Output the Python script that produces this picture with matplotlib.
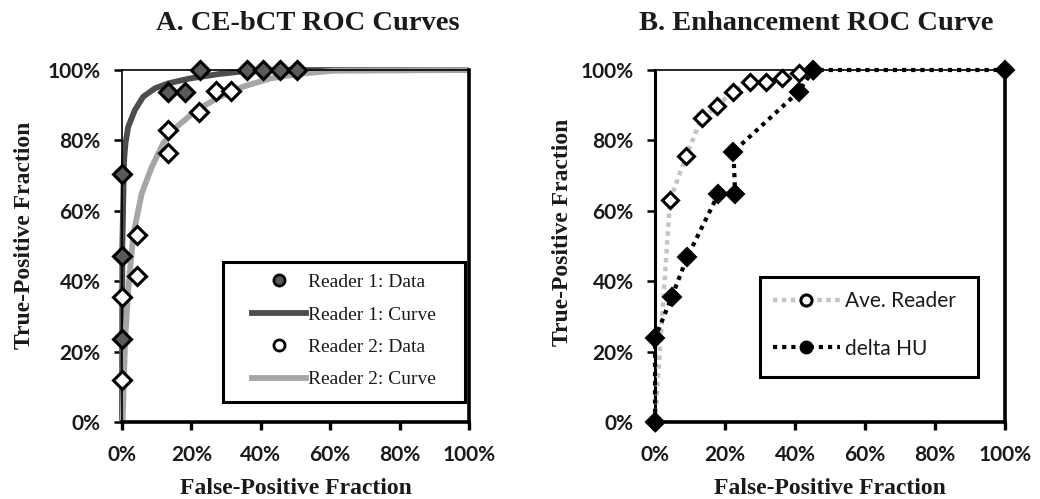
import matplotlib
matplotlib.use("Agg")
import matplotlib.pyplot as plt
from matplotlib.patches import Rectangle
from matplotlib.ticker import FuncFormatter

# ---------------- data (percent) ----------------
# Panel A: CE-bCT ROC curves
r1_data_fpr = [0, 0, 0, 13.3, 18.2, 22.5, 36.0, 40.6, 45.5, 50.3]
r1_data_tpr = [23.5, 47.3, 70.5, 93.8, 93.8, 100, 100, 100, 100, 100]
r2_data_fpr = [0, 0, 4.2, 4.2, 13.3, 13.3, 22.3, 27.2, 31.5]
r2_data_tpr = [11.9, 35.6, 41.4, 53.0, 76.5, 83.0, 88.2, 94.0, 94.0]
r1_curve_fpr = [0, 0.1, 0.6, 1.0, 1.8, 3.7, 6.1, 9.5, 13.3, 19.6, 28.2, 34.0, 45.0, 100]
r1_curve_tpr = [0, 50.0, 74.4, 79.2, 83.9, 88.6, 92.4, 94.8, 96.2, 97.6, 98.9, 99.5, 100, 100]
r2_curve_fpr = [0, 0.2, 0.9, 1.8, 3.3, 5.7, 8.6, 11.9, 15.8, 21.5, 28.2, 35.0, 42.7, 52.0, 61.0, 100]
r2_curve_tpr = [0, 0.6, 23.3, 37.5, 53.5, 65.0, 72.5, 79.2, 83.9, 88.6, 92.4, 95.3, 97.6, 99.0, 99.8, 100]

# Panel B: Enhancement ROC curve
ave_fpr = [0, 4.3, 8.9, 13.3, 17.8, 22.2, 27.1, 31.7, 36.2, 41.0, 45.2]
ave_tpr = [0, 63.0, 75.6, 86.3, 89.8, 93.8, 96.7, 96.7, 97.6, 99.2, 100]
dhu_fpr = [0, 0, 4.8, 9.2, 18.1, 22.9, 22.4, 41.0, 45.2, 100]
dhu_tpr = [0, 23.8, 35.6, 46.8, 64.8, 64.8, 76.8, 93.8, 100, 100]

x_ticks = [0, 20, 40, 60, 80, 100]
y_ticks = [0, 20, 40, 60, 80, 100]

titles = ["A. CE-bCT ROC Curves", "B. Enhancement ROC Curve"]
xlabel = "False-Positive Fraction"
ylabel = "True-Positive Fraction"
legA_labels = ["Reader 1: Data", "Reader 1: Curve", "Reader 2: Data", "Reader 2: Curve"]
legB_labels = ["Ave. Reader", "delta HU"]

SERIF = "Liberation Serif"
SANS = "Lato"
TXT = "#1a1a1a"

fig = plt.figure(figsize=(10.4, 4.99), dpi=100)
W, H = 1040, 499


def add_ax(x0, x1, y_top, y_bot):
    return fig.add_axes([x0 / W, 1 - y_bot / H, (x1 - x0) / W, (y_bot - y_top) / H])


axA = add_ax(122, 469, 70, 422)
axB = add_ax(655, 1005, 70, 422)

pct = FuncFormatter(lambda v, p: f"{int(round(v))}%")

for ax, left_lw, ylab_xy in ((axA, 1.2, (-0.28, 0.531)), (axB, 2.2, (-0.263, 0.54))):
    ax.set_xlim(0, 100)
    ax.set_ylim(0, 100)
    ax.set_xticks(x_ticks)
    ax.set_yticks(y_ticks)
    ax.xaxis.set_major_formatter(pct)
    ax.yaxis.set_major_formatter(pct)
    ax.spines["top"].set_linewidth(1.2)
    ax.spines["left"].set_linewidth(left_lw)
    ax.spines["bottom"].set_linewidth(2.6)
    ax.spines["right"].set_linewidth(2.6)
    for s in ax.spines.values():
        s.set_color("black")
    ax.tick_params(axis="x", direction="out", length=6, width=2.4, pad=10.5,
                   labelsize=15, labelcolor=TXT)
    ax.tick_params(axis="y", direction="out", length=6, width=1.8, pad=9.5,
                   labelsize=15, labelcolor=TXT)
    for lab in ax.get_xticklabels() + ax.get_yticklabels():
        lab.set_fontfamily(SANS)
        lab.set_fontweight("bold")
    ax.set_xlabel(xlabel, fontfamily=SERIF, fontweight="bold", fontsize=17, color=TXT)
    ax.set_ylabel(ylabel, fontfamily=SERIF, fontweight="bold", fontsize=17, color=TXT)
    ax.xaxis.set_label_coords(0.5, -0.1875)
    ax.xaxis.label.set_va("center")
    ax.yaxis.set_label_coords(*ylab_xy)
    ax.yaxis.label.set_va("center")

# ---------- Panel A ----------
axA.plot(r1_curve_fpr, r1_curve_tpr, color="#4d4d4d", lw=4.2,
         solid_capstyle="butt", zorder=2, clip_on=False)
axA.plot(r2_curve_fpr, r2_curve_tpr, color="#a6a6a6", lw=4.2,
         solid_capstyle="butt", zorder=2.1, clip_on=False)
axA.plot(r1_data_fpr, r1_data_tpr, ls="none", marker="D", ms=9.5,
         mfc="#5a5a5a", mec="black", mew=2.2, zorder=4, clip_on=False)
axA.plot(r2_data_fpr, r2_data_tpr, ls="none", marker="D", ms=9.5,
         mfc="white", mec="black", mew=2.2, zorder=4, clip_on=False)

# legend frame drawn as a rectangle, legend itself frameless
axA.add_patch(Rectangle((0.291, 0.057), 0.697, 0.398, transform=axA.transAxes,
                        facecolor="white", edgecolor="black", lw=2.2, zorder=5))
h_r1d = plt.Line2D([], [], ls="none", marker="o", ms=8, mfc="#5a5a5a", mec="black", mew=2)
h_r2d = plt.Line2D([], [], ls="none", marker="o", ms=8, mfc="white", mec="black", mew=2)
h_r1c = plt.Line2D([], [], color="#4d4d4d", lw=4.2)
h_r2c = plt.Line2D([], [], color="#a6a6a6", lw=4.2)
legA = axA.legend([h_r1d, h_r1c, h_r2d, h_r2c], legA_labels,
                  loc="center left", bbox_to_anchor=(0.375, 0.2585),
                  frameon=False, borderpad=0, borderaxespad=0,
                  handlelength=2.75, handletextpad=0.1, labelspacing=0.76,
                  prop={"family": SERIF, "size": 14})
legA.set_zorder(6)
for t in legA.get_texts():
    t.set_color(TXT)

# ---------- Panel B ----------
axB.plot(ave_fpr, ave_tpr, color="#c4c4c4", lw=3.2, ls=(0, (1, 1)),
         dash_capstyle="butt", marker="D", ms=8.5, mfc="white",
         mec="black", mew=2.2, zorder=3, clip_on=False)
axB.plot(dhu_fpr, dhu_tpr, color="black", lw=3.0, ls=(0, (1, 1.2)),
         dash_capstyle="butt", marker="D", ms=9, mfc="black",
         mec="black", mew=1.5, zorder=4, clip_on=False)
axB.add_patch(Rectangle((0.3, 0.128), 0.623, 0.284, transform=axB.transAxes,
                        facecolor="white", edgecolor="black", lw=2.2, zorder=5))
h_ave = plt.Line2D([], [], color="#c4c4c4", lw=3.2, ls=(0, (1, 1)), marker="o",
                   ms=8, mfc="white", mec="black", mew=2.2)
h_dhu = plt.Line2D([], [], color="black", lw=3.0, ls=(0, (1, 1.2)), marker="o",
                   ms=9, mfc="black", mec="black")
legB = axB.legend([h_ave, h_dhu], legB_labels,
                  loc="center left", bbox_to_anchor=(0.337, 0.2756),
                  frameon=False, borderpad=0, borderaxespad=0,
                  handlelength=3.2, handletextpad=0.25, labelspacing=1.32,
                  prop={"family": SANS, "size": 15})
legB.set_zorder(6)
for t in legB.get_texts():
    t.set_color(TXT)

# ---------- titles ----------
fig.text(308 / W, 1 - 23 / H, titles[0], ha="center", va="center",
         fontfamily=SERIF, fontweight="bold", fontsize=20.5, color=TXT)
fig.text(816 / W, 1 - 23 / H, titles[1], ha="center", va="center",
         fontfamily=SERIF, fontweight="bold", fontsize=20.5, color=TXT)

fig.savefig("out.png", dpi=100)
